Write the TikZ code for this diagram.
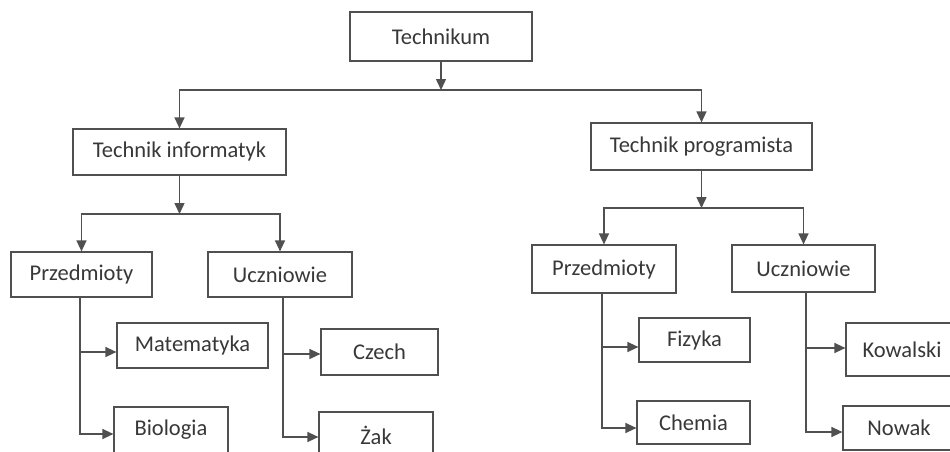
\documentclass[tikz,border=0pt]{standalone}
\usepackage{fontspec}
\setmainfont{Carlito}
\usetikzlibrary{arrows.meta}
\definecolor{ln}{HTML}{505050}
\definecolor{tx}{HTML}{383838}
\begin{document}
\begin{tikzpicture}[x=1pt,y=-1pt,
  box/.style={draw=ln, line width=1.2pt, rectangle, inner sep=0pt, text=tx,
    font=\fontsize{22.5}{26}\selectfont},
  conn/.style={draw=ln, line width=1.4pt},
  arr/.style={conn, -{Triangle[length=11pt,width=10pt]}}]
\useasboundingbox[fill=white] (0,0) rectangle (950,452);
% boxes
\node[box, minimum width=182pt, minimum height=49pt] (tech) at (441,36.5) {Technikum};
\node[box, minimum width=213pt, minimum height=46pt] (ti) at (179.5,152) {Technik informatyk};
\node[box, minimum width=221pt, minimum height=47pt] (tp) at (701.5,146.5) {Technik programista};
\node[box, minimum width=141pt, minimum height=45pt] (p1) at (81.5,274.5) {Przedmioty};
\node[box, minimum width=144pt, minimum height=45pt] (u1) at (280,274.5) {Uczniowie};
\node[box, minimum width=144pt, minimum height=48pt] (p2) at (604,269) {Przedmioty};
\node[box, minimum width=143pt, minimum height=47pt] (u2) at (803.5,268.5) {Uczniowie};
\node[box, minimum width=151pt, minimum height=45pt] (mat) at (192.5,345.5) {Matematyka};
\node[box, minimum width=114pt, minimum height=46pt] (bio) at (171,430) {Biologia};
\node[box, minimum width=117pt, minimum height=46pt] (cz) at (379.5,352) {Czech};
\node[box, minimum width=114pt, minimum height=46pt] (zak) at (376,435) {Żak};
\node[box, minimum width=111pt, minimum height=44pt] (fiz) at (694.5,340) {Fizyka};
\node[box, minimum width=113pt, minimum height=43pt] (chem) at (693.5,422.5) {Chemia};
\node[box, minimum width=112pt, minimum height=53pt] (kow) at (902,349.5) {Kowalski};
\node[box, minimum width=112pt, minimum height=44pt] (now) at (899,428) {Nowak};
% junction coordinates
\coordinate (j0) at (441,90);
\coordinate (j1) at (179.5,214);
\coordinate (j2) at (701.5,208);
% top level
\draw[arr] (tech.south) -- (j0);
\draw[arr] (j0) -| (ti.north);
\draw[arr] (j0) -| (tp.north);
% second level
\draw[arr] (ti.south) -- (j1);
\draw[arr] (j1) -| (p1.north);
\draw[arr] (j1) -| (u1.north);
\draw[arr] (tp.south) -- (j2);
\draw[arr] (j2) -| (p2.north);
\draw[arr] (j2) -| (u2.north);
% leaves
\coordinate (pm) at (80,352);   \coordinate (pb) at (80,434);
\coordinate (uc) at (283,354);  \coordinate (uz) at (283,437);
\coordinate (pf) at (602,347);  \coordinate (pc) at (602,428);
\coordinate (uk) at (806,348);  \coordinate (un) at (806,432);
\draw[arr] (p1.south -| pb) -- (pb) -- (pb -| bio.west);
\draw[arr] (pm) -- (pm -| mat.west);
\draw[arr] (u1.south -| uz) -- (uz) -- (uz -| zak.west);
\draw[arr] (uc) -- (uc -| cz.west);
\draw[arr] (p2.south -| pc) -- (pc) -- (pc -| chem.west);
\draw[arr] (pf) -- (pf -| fiz.west);
\draw[arr] (u2.south -| un) -- (un) -- (un -| now.west);
\draw[arr] (uk) -- (uk -| kow.west);
\end{tikzpicture}
\end{document}
